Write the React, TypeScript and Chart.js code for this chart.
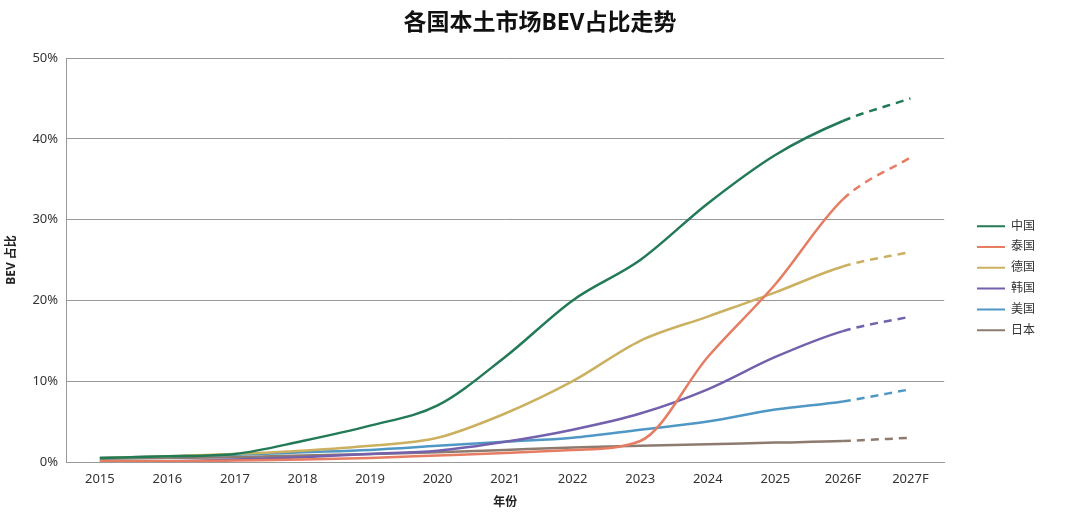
import React, { useEffect, useRef } from "react";
import Chart from "chart.js/auto";

const years = ["2015", "2016", "2017", "2018", "2019", "2020", "2021", "2022", "2023", "2024", "2025", "2026F", "2027F"];

const china = [0.5, 0.7, 1.0, 2.6, 4.5, 7.0, 13.0, 20.0, 25.0, 32.0, 38.0, 42.2, 45.0];
const thailand = [0.1, 0.1, 0.2, 0.3, 0.5, 0.8, 1.1, 1.5, 2.6, 13.0, 22.0, 32.5, 37.7];
const germany = [0.5, 0.7, 1.0, 1.4, 2.0, 3.0, 6.0, 10.0, 15.0, 18.0, 21.0, 24.2, 26.0];
const korea = [0.1, 0.1, 0.3, 0.6, 1.0, 1.4, 2.5, 4.0, 6.0, 9.0, 13.0, 16.2, 18.0];
const usa = [0.5, 0.7, 0.9, 1.2, 1.5, 2.0, 2.5, 3.0, 4.0, 5.0, 6.5, 7.5, 9.0];
const japan = [0.4, 0.5, 0.6, 0.8, 1.0, 1.2, 1.5, 1.8, 2.0, 2.2, 2.4, 2.6, 3.0];

const seriesNames = ["中国", "泰国", "德国", "韩国", "美国", "日本"];
const seriesColors = ["#237a57", "#e67c62", "#cbb060", "#7361ad", "#4f97c4", "#8d7b70"];

const titleText = "各国本土市场BEV占比走势";

const font = "'Noto Sans', 'Noto Sans CJK SC', sans-serif";

// title centred on the whole canvas, not on the padded layout box
const titlePlugin = {
	id: "canvasTitle",
	afterDraw(chart: any) {
		const ctx = chart.ctx;
		ctx.save();
		ctx.font = `bold 23px ${font}`;
		ctx.fillStyle = "#111";
		ctx.textAlign = "center";
		ctx.textBaseline = "middle";
		ctx.fillText(titleText, chart.width / 2, 23);
		ctx.restore();
	},
};

const App: React.FC = () => {
	const chartRef = useRef<HTMLCanvasElement>(null);
	const chartInstanceRef = useRef<Chart>();

	useEffect(() => {
		if (!chartRef.current) return;
		if (chartInstanceRef.current) chartInstanceRef.current.destroy();

		const values = [china, thailand, germany, korea, usa, japan];
		const lastIdx = years.length - 1;

		chartInstanceRef.current = new Chart(chartRef.current, {
			type: "line",
			plugins: [titlePlugin],
			data: {
				labels: years,
				datasets: values.map((data, i) => ({
					label: seriesNames[i],
					data,
					borderColor: seriesColors[i],
					backgroundColor: seriesColors[i],
					borderWidth: 2.5,
					pointRadius: 0,
					fill: false,
					cubicInterpolationMode: "monotone" as const,
					segment: {
						borderDash: (ctx: any) => (ctx.p1DataIndex === lastIdx ? [8, 6] : undefined),
					},
				})),
			},
			options: {
				animation: false,
				responsive: true,
				maintainAspectRatio: false,
				layout: { padding: { left: 0, right: 35, top: 58, bottom: 5 } },
				plugins: {
					title: { display: false },
					legend: {
						position: "right",
						align: "start",
						// empty title used as a top spacer for the legend items
						title: {
							display: true,
							text: "",
							font: { family: font, size: 12 },
							padding: { top: 0, bottom: 139 },
						},
						labels: {
							color: "#333",
							font: { family: font, size: 12 },
							boxWidth: 28,
							boxHeight: 2,
							padding: 8.8,
							generateLabels: (chart: any) =>
								chart.data.datasets.map((ds: any, i: number) => ({
									text: ds.label,
									fillStyle: ds.borderColor,
									strokeStyle: ds.borderColor,
									lineWidth: 0,
									fontColor: "#333",
									hidden: false,
									datasetIndex: i,
								})),
						},
					},
					tooltip: { enabled: false },
				},
				scales: {
					x: {
						offset: true,
						grid: { display: false, drawTicks: false },
						border: { display: true, color: "#999", width: 1 },
						ticks: { color: "#333", font: { family: font, size: 13 }, padding: 9 },
						title: {
							display: true,
							text: "年份",
							color: "#222",
							font: { family: font, size: 12, weight: "bold" },
							padding: { top: 0, bottom: 4 },
						},
					},
					y: {
						min: 0,
						max: 50,
						grid: { color: "#999", drawTicks: false },
						border: { display: true, color: "#999", width: 1 },
						ticks: {
							stepSize: 10,
							color: "#333",
							font: { family: font, size: 13 },
							padding: 8,
							callback: (v: any) => v + "%",
						},
						title: {
							display: true,
							text: "BEV 占比",
							color: "#222",
							font: { family: font, size: 12, weight: "bold" },
							padding: { bottom: 6 },
						},
					},
					// invisible spacer between plot and legend
					pad: {
						type: "linear",
						position: "right",
						display: true,
						grid: { display: false, drawTicks: false },
						border: { display: false },
						ticks: { display: false },
						afterFit: (scale: any) => {
							scale.width = 24;
						},
					},
				},
			},
		});

		return () => {
			if (chartInstanceRef.current) {
				chartInstanceRef.current.destroy();
			}
		};
	}, []);

	return (
		<div style={{ position: "fixed", left: 0, top: 0, width: 1080, height: 519, background: "white" }}>
			<canvas ref={chartRef} />
		</div>
	);
};

export default App;
